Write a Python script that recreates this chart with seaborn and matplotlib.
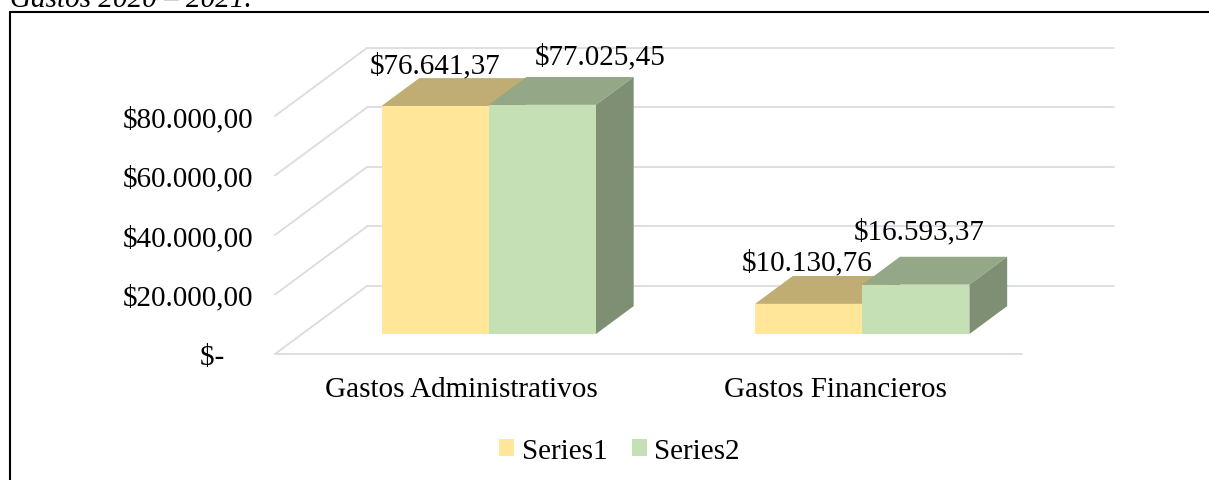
import numpy as np
import pandas as pd
import matplotlib
matplotlib.use("Agg")
import matplotlib.pyplot as plt
from matplotlib.lines import Line2D
from matplotlib.patches import Polygon
import seaborn as sns

# --- data -------------------------------------------------------------------
categorias = ["Gastos Administrativos", "Gastos Financieros"]
series_nombres = ["Series1", "Series2"]
series1 = [76641.37, 10130.76]
series2 = [77025.45, 16593.37]
y_ticks = [0, 20000, 40000, 60000, 80000]
titulo = "Gastos 2020 \u2013 2021."

# --- style ------------------------------------------------------------------
col_front = ["#FFE699", "#C5E0B4"]
shade_top, shade_side = 0.75, 0.64
grid_color = "#D9DCE1"
FS = 21

W, H, DPI = 1209, 481, 100
# pixel geometry of the bar front plane
X_LEFT_PX, X_RIGHT_PX = 302, 1049      # x = -0.5 .. 1.5
Y_ZERO_PX, PX_PER_VAL = 335, 238 / 80000
YLIM = (-10000, 90000)
DEPTH_PX = (92, -68)                    # full floor depth (right, up)
F_FRONT, F_BAR = 0.294, 0.41            # floor front / bar depth as fraction
# label offsets from bar front-top-centre, in pixels (right, down)
label_off = [[(0, -41), (-2, -42)], [(58, -49), (3, -54)]]


def fmt_money(v):
    if v == 0:
        return "$-"
    s = f"{v:,.2f}".replace(",", "X").replace(".", ",").replace("X", ".")
    return "$" + s


def darken(c, f):
    r, g, b = matplotlib.colors.to_rgb(c)
    return (r * f, g * f, b * f)


sns.set_style("white")
plt.rcParams["font.family"] = ["Liberation Serif", "DejaVu Serif"]
plt.rcParams["text.color"] = "black"
plt.rcParams["xtick.color"] = "black"
plt.rcParams["ytick.color"] = "black"
plt.rcParams["axes.labelcolor"] = "black"

df = pd.DataFrame({
    "categoria": categorias * 2,
    "serie": [series_nombres[0]] * 2 + [series_nombres[1]] * 2,
    "valor": series1 + series2,
})

fig = plt.figure(figsize=(W / DPI, H / DPI), dpi=DPI)
ax_bottom_px = Y_ZERO_PX - YLIM[0] * PX_PER_VAL
ax_top_px = Y_ZERO_PX - YLIM[1] * PX_PER_VAL
ax = fig.add_axes([X_LEFT_PX / W, 1 - ax_bottom_px / H,
                   (X_RIGHT_PX - X_LEFT_PX) / W, (ax_bottom_px - ax_top_px) / H])

sns.barplot(data=df, x="categoria", y="valor", hue="serie", palette=col_front,
            width=0.574, saturation=1, edgecolor="none", linewidth=0, ax=ax)

ax.set_xlim(-0.5, 1.5)
ax.set_ylim(*YLIM)

px_per_x = (X_RIGHT_PX - X_LEFT_PX) / 2.0
DX = DEPTH_PX[0] / px_per_x
DY = -DEPTH_PX[1] / PX_PER_VAL

# floor / back wall grid
fb = 1 - F_FRONT
for v in y_ticks:
    ax.plot([-0.5 - F_FRONT * DX, -0.5 + fb * DX], [v - F_FRONT * DY, v + fb * DY],
            color=grid_color, lw=1.3, clip_on=False, zorder=0.5)
    ax.plot([-0.5 + fb * DX, 1.5 + fb * DX], [v + fb * DY, v + fb * DY],
            color=grid_color, lw=1.3, clip_on=False, zorder=0.5)
ax.plot([-0.5 - F_FRONT * DX, 1.5 - F_FRONT * DX], [-F_FRONT * DY] * 2,
        color=grid_color, lw=1.3, clip_on=False, zorder=0.5)

# 3d faces
bdx, bdy = F_BAR * DX, F_BAR * DY
for i, cont in enumerate(ax.containers):
    base_z = 2 + 2 * i
    for j, rect in enumerate(cont.patches):
        x0, w, h = rect.get_x(), rect.get_width(), rect.get_height()
        rect.set_zorder(base_z + 1)
        rect.set_clip_on(False)
        top = [(x0, h), (x0 + w, h), (x0 + w + bdx, h + bdy), (x0 + bdx, h + bdy)]
        side = [(x0 + w, 0), (x0 + w + bdx, bdy), (x0 + w + bdx, h + bdy), (x0 + w, h)]
        ax.add_patch(Polygon(top, closed=True, facecolor=darken(col_front[i], shade_top),
                             edgecolor="none", zorder=base_z, clip_on=False))
        ax.add_patch(Polygon(side, closed=True, facecolor=darken(col_front[i], shade_side),
                             edgecolor="none", zorder=base_z, clip_on=False))
        ox, oy = label_off[i][j]
        ax.annotate(fmt_money(h), (x0 + w / 2, h), xytext=(ox * 0.72, -oy * 0.72),
                    textcoords="offset points", ha="center", va="center",
                    fontsize=FS, color="black", zorder=10)

# axes ticks
ax.set_xticks([k - F_FRONT * DX for k in range(len(categorias))])
ax.set_xticklabels(categorias, fontsize=FS)
ax.set_yticks([v - F_FRONT * DY for v in y_ticks])
ax.set_yticklabels([fmt_money(v) if v else "$-    " for v in y_ticks], fontsize=FS)
ax.tick_params(axis="x", length=0, pad=9)
ax.tick_params(axis="y", length=0, pad=35)
ax.set_xlabel("")
ax.set_ylabel("")
for s in ax.spines.values():
    s.set_visible(False)
ax.grid(False)
ax.patch.set_alpha(0)

sns.move_legend(ax, "center", bbox_to_anchor=(619.5 / W, 1 - 452 / H),
                bbox_transform=fig.transFigure, ncol=2, frameon=False, title=None,
                fontsize=FS, handlelength=0.52, handleheight=0.52,
                handletextpad=0.25, columnspacing=0.85)

# caption and frame (part of the source document)
fig.text(10 / W, 1 - 7 / H, titulo, fontsize=FS, style="italic", va="baseline", ha="left")
fig.add_artist(Line2D([10 / W, 10 / W], [0, 1 - 13 / H], color="black", lw=1.5,
                      transform=fig.transFigure))
fig.add_artist(Line2D([10 / W, 1], [1 - 13 / H, 1 - 13 / H], color="black", lw=1.5,
                      transform=fig.transFigure))

fig.savefig("out.png", dpi=DPI)
